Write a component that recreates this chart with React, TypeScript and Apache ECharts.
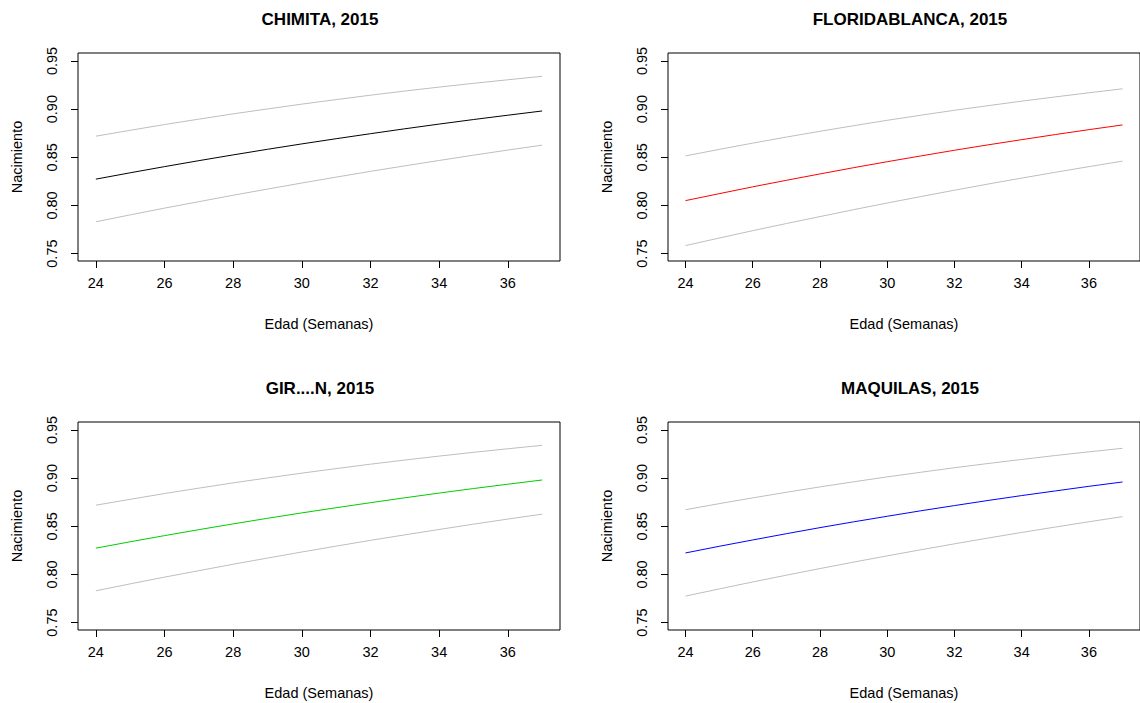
import React, { useEffect, useRef } from "react";
import * as echarts from "echarts";

const weeks = [24, 25, 26, 27, 28, 29, 30, 31, 32, 33, 34, 35, 36, 37];
const xTickValues = [24, 26, 28, 30, 32, 34, 36];
const yTickValues = [0.75, 0.8, 0.85, 0.9, 0.95];

const chimitaFit = [0.8273, 0.8339, 0.8403, 0.8465, 0.8525, 0.8583, 0.8639, 0.8693, 0.8745, 0.8796, 0.8845, 0.8892, 0.8937, 0.8981];
const chimitaUp = [0.8719, 0.878, 0.884, 0.8896, 0.8951, 0.9002, 0.9052, 0.9099, 0.9145, 0.9188, 0.9229, 0.9268, 0.9305, 0.9341];
const chimitaLow = [0.783, 0.7902, 0.7972, 0.8039, 0.8106, 0.817, 0.8233, 0.8294, 0.8354, 0.8411, 0.8467, 0.8522, 0.8575, 0.8626];

const floridaFit = [0.805, 0.8122, 0.8193, 0.8261, 0.8327, 0.8392, 0.8454, 0.8514, 0.8573, 0.8629, 0.8683, 0.8736, 0.8787, 0.8836];
const floridaUp = [0.8514, 0.8582, 0.8647, 0.871, 0.877, 0.8828, 0.8884, 0.8937, 0.8988, 0.9036, 0.9083, 0.9127, 0.917, 0.9211];
const floridaLow = [0.7583, 0.7661, 0.7738, 0.7812, 0.7884, 0.7956, 0.8025, 0.8092, 0.8158, 0.8222, 0.8284, 0.8344, 0.8403, 0.846];

const gironFit = [0.8273, 0.8339, 0.8403, 0.8465, 0.8525, 0.8583, 0.8639, 0.8693, 0.8745, 0.8796, 0.8845, 0.8892, 0.8937, 0.8981];
const gironUp = [0.8719, 0.878, 0.884, 0.8896, 0.8951, 0.9002, 0.9052, 0.9099, 0.9145, 0.9188, 0.9229, 0.9268, 0.9305, 0.9341];
const gironLow = [0.783, 0.7902, 0.7972, 0.8039, 0.8106, 0.817, 0.8233, 0.8294, 0.8354, 0.8411, 0.8467, 0.8522, 0.8575, 0.8626];

const maquilasFit = [0.8223, 0.8292, 0.8358, 0.8423, 0.8486, 0.8546, 0.8604, 0.8661, 0.8715, 0.8768, 0.8819, 0.8867, 0.8915, 0.896];
const maquilasUp = [0.8672, 0.8735, 0.8795, 0.8853, 0.8909, 0.8962, 0.9013, 0.9061, 0.9108, 0.9152, 0.9194, 0.9235, 0.9273, 0.931];
const maquilasLow = [0.7775, 0.7849, 0.7922, 0.7992, 0.8061, 0.8128, 0.8193, 0.8256, 0.8318, 0.8378, 0.8436, 0.8492, 0.8547, 0.86];

const panelTitles = ["CHIMITA, 2015", "FLORIDABLANCA, 2015", "GIR....N, 2015", "MAQUILAS, 2015"];
const panelColors = ["#000000", "#ff0000", "#00cd00", "#0000ff"];
const panelFits = [chimitaFit, floridaFit, gironFit, maquilasFit];
const panelUps = [chimitaUp, floridaUp, gironUp, maquilasUp];
const panelLows = [chimitaLow, floridaLow, gironLow, maquilasLow];

const FONT = "'Liberation Sans', Arial, Helvetica, sans-serif";
const layout = [
  { left: 78, top: 53 },
  { left: 668, top: 53 },
  { left: 78, top: 422 },
  { left: 668, top: 422 },
];
const GW = 482;
const GH = 208;

function pairs(vals: number[]) {
  return weeks.map((w, i) => [w, vals[i]]);
}

export default function App() {
  const ref = useRef<HTMLDivElement>(null);
  useEffect(() => {
    if (!ref.current) return;
    const chart = echarts.init(ref.current, null, { renderer: "svg" });
    const grids: any[] = [];
    const xAxes: any[] = [];
    const yAxes: any[] = [];
    const series: any[] = [];
    const titles: any[] = [];
    layout.forEach((p, i) => {
      grids.push({
        left: p.left,
        top: p.top,
        width: GW,
        height: GH,
        show: true,
        borderColor: "#000",
        borderWidth: 1,
        backgroundColor: "transparent",
        containLabel: false,
      });
      xAxes.push({
        gridIndex: i,
        type: "value",
        min: 23.48,
        max: 37.52,
        axisLine: { show: false },
        axisTick: { show: true, customValues: xTickValues, length: 7, lineStyle: { color: "#000" } },
        axisLabel: {
          customValues: xTickValues,
          margin: 14,
          fontSize: 14.5,
          color: "#000",
          fontFamily: FONT,
        },
        splitLine: { show: false },
        name: "Edad (Semanas)",
        nameLocation: "middle",
        nameGap: 55,
        nameTextStyle: { fontSize: 14.5, color: "#000", fontFamily: FONT },
      });
      yAxes.push({
        gridIndex: i,
        type: "value",
        min: 0.7423,
        max: 0.9583,
        axisLine: { show: false },
        axisTick: { show: true, customValues: yTickValues, length: 7, lineStyle: { color: "#000" } },
        axisLabel: {
          customValues: yTickValues,
          rotate: 90,
          margin: 19,
          fontSize: 14.5,
          color: "#000",
          fontFamily: FONT,
          formatter: (v: number) => v.toFixed(2),
        },
        splitLine: { show: false },
        name: "Nacimiento",
        nameLocation: "middle",
        nameGap: 54,
        nameRotate: 90,
        nameTextStyle: { fontSize: 14.5, color: "#000", fontFamily: FONT },
      });
      const mk = (vals: number[], color: string) => ({
        type: "line",
        xAxisIndex: i,
        yAxisIndex: i,
        data: pairs(vals),
        showSymbol: false,
        symbol: "none",
        lineStyle: { color, width: 1 },
        silent: true,
      });
      series.push(mk(panelUps[i], "#bebebe"));
      series.push(mk(panelLows[i], "#bebebe"));
      series.push(mk(panelFits[i], panelColors[i]));
      titles.push({
        text: panelTitles[i],
        left: p.left + GW / 2 - 4,
        top: p.top - 47,
        textAlign: "center",
        textStyle: { fontSize: 17, fontWeight: "bold", color: "#000", fontFamily: FONT },
      });
    });
    chart.setOption({
      animation: false,
      backgroundColor: "#ffffff",
      title: titles,
      grid: grids,
      xAxis: xAxes,
      yAxis: yAxes,
      series,
    });
    return () => chart.dispose();
  }, []);
  return (
    <div
      ref={ref}
      style={{ position: "fixed", left: 0, top: 0, width: 1140, height: 703, background: "#fff" }}
    />
  );
}
